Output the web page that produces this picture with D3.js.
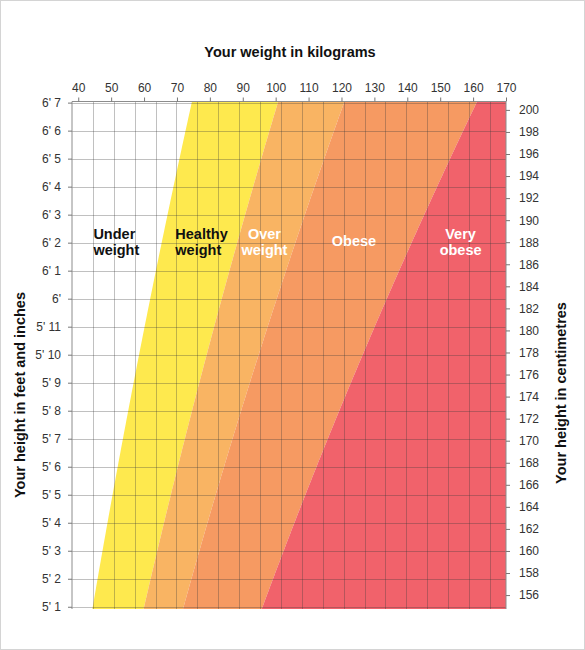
<!DOCTYPE html>
<html>
<head>
<meta charset="utf-8">
<script src="https://cdn.jsdelivr.net/npm/d3@7/dist/d3.min.js"></script>
<style>
  html, body { margin: 0; padding: 0; background: #fff; }
  svg { display: block; font-family: "Liberation Sans", Arial, sans-serif; }
</style>
</head>
<body>
<svg id="chart" width="585" height="650"></svg>
<script>
// ---- Data ----
const weightTicksKg = [40, 50, 60, 70, 80, 90, 100, 110, 120, 130, 140, 150, 160, 170];
const heightTicksIn = [61, 62, 63, 64, 65, 66, 67, 68, 69, 70, 71, 72, 73, 74, 75, 76, 77, 78, 79];
const heightTickLabels = ["5' 1", "5' 2", "5' 3", "5' 4", "5' 5", "5' 6", "5' 7", "5' 8", "5' 9", "5' 10", "5' 11",
  "6'", "6' 1", "6' 2", "6' 3", "6' 4", "6' 5", "6' 6", "6' 7"];
const heightTicksCm = [156, 158, 160, 162, 164, 166, 168, 170, 172, 174, 176, 178, 180, 182, 184, 186, 188, 190, 192, 194, 196, 198, 200];
const stoneGridLines = [7, 8, 9, 10, 11, 12, 13, 14, 15, 16, 17, 18, 19, 20, 21, 22, 23, 24, 25, 26];
const bmiCuts = [18.5, 25, 30, 40];
const bandLabels = [["Under", "weight"], ["Healthy", "weight"], ["Over", "weight"], ["Obese"], ["Very", "obese"]];
const bandColors = ["#ffffff", "#fee94e", "#f9b463", "#f69a62", "#f1626b"];
const labelColors = ["#111111", "#111111", "#ffffff", "#ffffff", "#ffffff"];

// ---- Layout ----
const KG_PER_STONE = 6.35029;
const kgMin = 6 * KG_PER_STONE, kgMax = 170;
const inMin = 60.92, inMax = 79.04;
const x = d3.scaleLinear().domain([kgMin, kgMax]).range([72, 506]);
const y = d3.scaleLinear().domain([inMin, inMax]).range([609, 101.5]);

const svg = d3.select("#chart");
svg.append("rect").attr("x", 0.5).attr("y", 0.5).attr("width", 584).attr("height", 649)
  .attr("fill", "#fff").attr("stroke", "#d4d4d4");

const clipId = "plotclip";
svg.append("clipPath").attr("id", clipId).append("rect")
  .attr("x", x(kgMin)).attr("y", y(inMax)).attr("width", x(kgMax) - x(kgMin)).attr("height", y(inMin) - y(inMax));

const plot = svg.append("g").attr("clip-path", `url(#${clipId})`);

// boundary kg for a BMI at height (inches)
const boundaryKg = (bmi, hin) => bmi * Math.pow(hin * 0.0254, 2);
const hs = d3.range(inMin, inMax + 0.001, 0.1).concat([inMax]);

bandColors.forEach((col, i) => {
  const left = i === 0 ? hs.map(h => [kgMin, h]) : hs.map(h => [boundaryKg(bmiCuts[i - 1], h), h]);
  const right = i === bandColors.length - 1 ? hs.map(h => [kgMax + 5, h]) : hs.map(h => [boundaryKg(bmiCuts[i], h), h]);
  const pts = left.concat(right.slice().reverse());
  plot.append("path")
    .attr("d", d3.line().x(d => x(d[0])).y(d => y(d[1]))(pts) + "Z")
    .attr("fill", col);
});

// grid
const gridColor = "rgba(60,60,60,0.32)";
plot.selectAll(".vg").data(stoneGridLines).join("line")
  .attr("x1", d => Math.round(x(d * KG_PER_STONE)) + 0.5).attr("x2", d => Math.round(x(d * KG_PER_STONE)) + 0.5)
  .attr("y1", y(inMax)).attr("y2", y(inMin))
  .attr("stroke", gridColor).attr("stroke-width", 1);
plot.selectAll(".hg").data(heightTicksIn).join("line")
  .attr("y1", d => Math.round(y(d)) + 0.5).attr("y2", d => Math.round(y(d)) + 0.5)
  .attr("x1", x(kgMin)).attr("x2", x(kgMax))
  .attr("stroke", gridColor).attr("stroke-width", 1);

// axes frame lines
const axisColor = "#8c8c8c";
svg.append("line").attr("x1", x(kgMin)).attr("x2", x(kgMin)).attr("y1", y(inMax)).attr("y2", y(inMin))
  .attr("stroke", axisColor);
svg.append("line").attr("x1", x(kgMax)).attr("x2", x(kgMax)).attr("y1", y(inMax)).attr("y2", y(inMin))
  .attr("stroke", axisColor);
svg.append("line").attr("x1", x(kgMin)).attr("x2", x(kgMax)).attr("y1", y(inMax)).attr("y2", y(inMax))
  .attr("stroke", axisColor);

// top axis
const topAxis = d3.axisTop(x).tickValues(weightTicksKg).tickSize(4).tickPadding(6).tickFormat(d3.format("d"));
const gTop = svg.append("g").attr("transform", `translate(0,${y(inMax)})`).call(topAxis);
gTop.select(".domain").remove();

// left axis (feet/inches)
const leftAxis = d3.axisLeft(y).tickValues(heightTicksIn).tickSize(4).tickPadding(7)
  .tickFormat((d, i) => heightTickLabels[i]);
const gLeft = svg.append("g").attr("transform", `translate(${x(kgMin)},0)`).call(leftAxis);
gLeft.select(".domain").remove();

// right axis (cm)
const yCm = d3.scaleLinear().domain([inMin * 2.54, inMax * 2.54]).range(y.range());
const rightAxis = d3.axisRight(yCm).tickValues(heightTicksCm).tickSize(4).tickPadding(9).tickFormat(d3.format("d"));
const gRight = svg.append("g").attr("transform", `translate(${x(kgMax)},0)`).call(rightAxis);
gRight.select(".domain").remove();

[gTop, gLeft, gRight].forEach(g => {
  g.selectAll("text").attr("font-size", 12).attr("fill", "#333").attr("font-family", "'Liberation Sans', Arial, sans-serif");
  g.selectAll(".tick line").attr("stroke", "#777");
});

// titles
svg.append("text").attr("x", 290).attr("y", 57).attr("text-anchor", "middle")
  .attr("font-size", 14.5).attr("font-weight", "bold").attr("fill", "#111").text("Your weight in kilograms");
svg.append("text").attr("transform", "translate(25,395) rotate(-90)").attr("text-anchor", "middle")
  .attr("font-size", 14.5).attr("font-weight", "bold").attr("fill", "#111").text("Your height in feet and inches");
svg.append("text").attr("transform", "translate(566,393) rotate(-90)").attr("text-anchor", "middle")
  .attr("font-size", 14.5).attr("font-weight", "bold").attr("fill", "#111").text("Your height in centimetres");

// band labels
const labelPos = [
  { kg: 44.6, anchor: "start", h: 74.13 },
  { kg: 69.5, anchor: "start", h: 74.13 },
  { kg: 96.6, anchor: "middle", h: 74.13 },
  { kg: 123.8, anchor: "middle", h: 73.88 },
  { kg: 156.2, anchor: "middle", h: 74.13 }
];
bandLabels.forEach((lines, i) => {
  const t = svg.append("text").attr("x", x(labelPos[i].kg)).attr("y", y(labelPos[i].h))
    .attr("text-anchor", labelPos[i].anchor).attr("font-size", 14.5).attr("font-weight", "bold")
    .attr("fill", labelColors[i]);
  lines.forEach((ln, j) => {
    t.append("tspan").attr("x", x(labelPos[i].kg)).attr("dy", j === 0 ? 0 : 16).text(ln);
  });
});
</script>
</body>
</html>
